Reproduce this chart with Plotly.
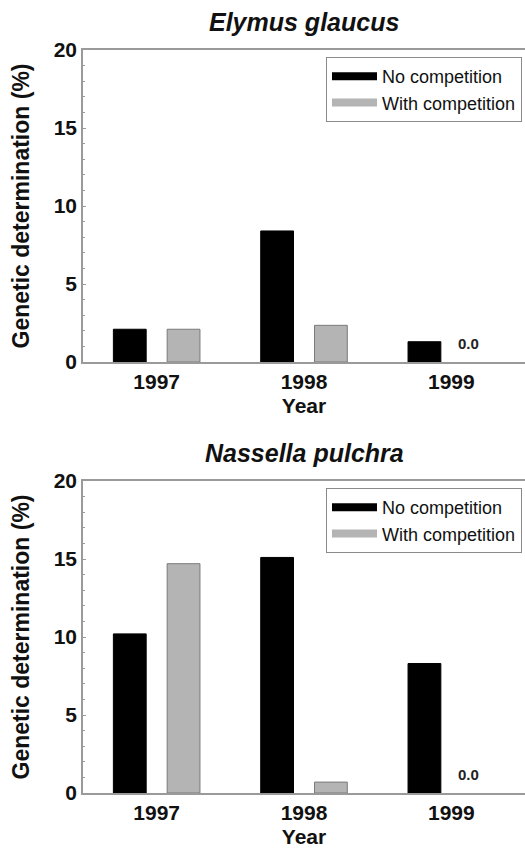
import plotly.graph_objects as go

years = ["1997", "1998", "1999"]
series_names = ["No competition", "With competition"]
elymus_no_comp = [2.1, 8.4, 1.3]
elymus_with_comp = [2.1, 2.35, 0.0]
nassella_no_comp = [10.2, 15.1, 8.3]
nassella_with_comp = [14.7, 0.7, 0.0]
panel_titles = ["Elymus glaucus", "Nassella pulchra"]
y_ticks = [0, 5, 10, 15, 20]

FONT = "Arial, 'Liberation Sans', sans-serif"
W, H = 525, 849
BLACK = "#000000"
GRAY = "#b4b4b4"
GRAY_EDGE = "#7a7a7a"
AXIS = "#9a9a9a"

fig = go.Figure()

panels = [
    (elymus_no_comp, elymus_with_comp, "x", "y", [1 - 362 / H, 1 - 50 / H]),
    (nassella_no_comp, nassella_with_comp, "x2", "y2", [1 - 793 / H, 1 - 481 / H]),
]

annotations = []
for i, (nc, wc, xa, ya, dom) in enumerate(panels):
    leg = "legend" if i == 0 else "legend2"
    fig.add_trace(go.Bar(
        x=years, y=nc, name=series_names[0], xaxis=xa, yaxis=ya,
        marker=dict(color=BLACK, line=dict(color=BLACK, width=1)),
        showlegend=False,
    ))
    fig.add_trace(go.Bar(
        x=years, y=wc, name=series_names[1], xaxis=xa, yaxis=ya,
        marker=dict(color=GRAY, line=dict(color=GRAY_EDGE,
                                          width=[1 if v > 0 else 0 for v in wc])),
        showlegend=False,
    ))
    # legend entries (wide flat swatches)
    for name, col in zip(series_names, [BLACK, GRAY]):
        fig.add_trace(go.Scatter(
            x=[None], y=[None], mode="lines", name=name, xaxis=xa, yaxis=ya,
            line=dict(color=col, width=8), legend=leg, showlegend=True,
        ))
    for j, v in enumerate(wc):
        if v == 0:
            annotations.append(dict(
                x=j, y=0, xref=xa, yref=ya, text="0.0",
                showarrow=False, yanchor="bottom", xshift=17, yshift=8,
                font=dict(family=FONT, size=15, color="#222", weight="bold"),
            ))
    annotations.append(dict(
        x=304 / W, xref="paper", y=dom[1], yref="paper", yanchor="bottom", yshift=12,
        text="<i>%s</i>" % panel_titles[i], showarrow=False,
        font=dict(family=FONT, size=25, color="#111", weight="bold"),
    ))

axis_common = dict(
    showline=True, linecolor=AXIS, linewidth=1.5, showgrid=False, zeroline=False,
    automargin=False,
)
for i, (_, _, xa, ya, dom) in enumerate(panels):
    xkey = "xaxis" if i == 0 else "xaxis2"
    ykey = "yaxis" if i == 0 else "yaxis2"
    fig.layout[xkey] = dict(
        axis_common, domain=[83 / W, 1.0], range=[-0.5, 2.5], type="category",
        anchor=ya, mirror=True, ticks="",
        tickfont=dict(family=FONT, size=21, color="#111", weight="bold"),
        title=dict(text="Year", font=dict(family=FONT, size=21, color="#111", weight="bold"),
                   standoff=6),
    )
    fig.layout[ykey] = dict(
        axis_common, domain=dom, range=[0, 20], anchor=xa,
        tickvals=y_ticks, ticktext=[str(t) for t in y_ticks],
        ticks="inside", ticklen=3, tickcolor=AXIS,
        minor=dict(dtick=1, ticks="inside", ticklen=2, tickcolor=AXIS),
        tickfont=dict(family=FONT, size=21, color="#111", weight="bold"),
        title=dict(text="Genetic determination (%)",
                   font=dict(family=FONT, size=23, color="#111", weight="bold"), standoff=18),
    )

legend_common = dict(
    xanchor="right", yanchor="top", bgcolor="white", bordercolor="#8a8a8a", borderwidth=1,
    font=dict(family=FONT, size=18, color="#111"),
    tracegroupgap=0, itemwidth=45,
)
fig.update_layout(
    width=W, height=H, margin=dict(l=0, r=0, t=0, b=0),
    plot_bgcolor="white", paper_bgcolor="white",
    barmode="group", bargap=0.27, bargroupgap=0.39,
    legend=dict(legend_common, x=522 / W, y=1 - 57 / H),
    legend2=dict(legend_common, x=522 / W, y=1 - 488 / H),
    annotations=annotations,
)

fig.write_html("out.html", config={"displayModeBar": False},
               post_script="document.body.style.margin='0';document.body.style.overflow='hidden';")
